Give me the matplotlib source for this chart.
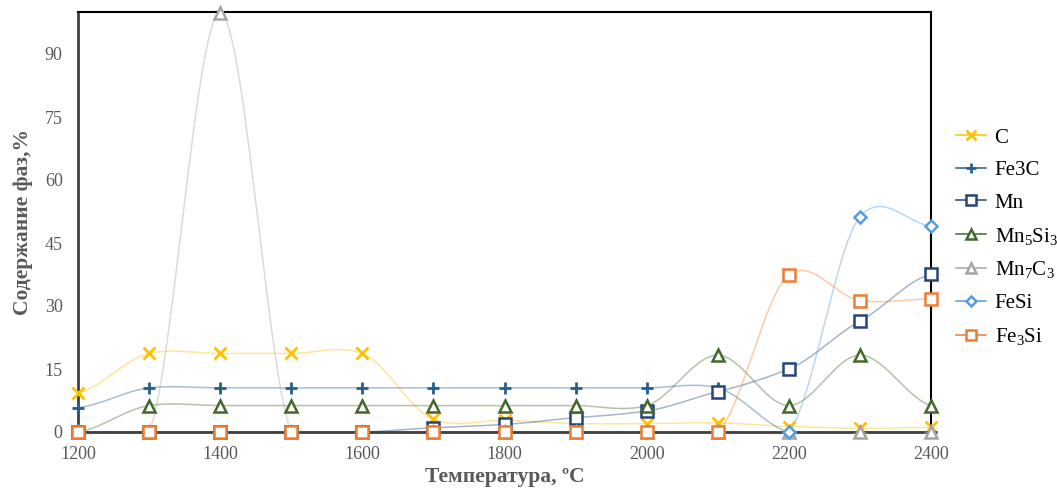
import matplotlib
matplotlib.use("Agg")
import matplotlib.pyplot as plt
import numpy as np

plt.rcParams['font.family'] = ['Liberation Serif', 'DejaVu Serif']
plt.rcParams['mathtext.fontset'] = 'custom'
plt.rcParams['mathtext.rm'] = 'Liberation Serif'
plt.rcParams['mathtext.it'] = 'Liberation Serif'

temps = [1200, 1300, 1400, 1500, 1600, 1700, 1800, 1900, 2000, 2100, 2200, 2300, 2400]

c_vals = [9.3, 18.7, 18.7, 18.7, 18.7, 3.0, 2.8, 2.0, 2.0, 2.2, 1.3, 0.9, 1.1]
fe3c_vals = [5.8, 10.5, 10.5, 10.5, 10.5, 10.5, 10.5, 10.5, 10.5, 10.5, 0, 0, 0]
mn_vals = [0, 0, 0, 0, 0, 1.0, 1.8, 3.4, 5.0, 9.6, 15.0, 26.4, 37.6]
mn5si3_vals = [0, 6.3, 6.3, 6.3, 6.3, 6.3, 6.3, 6.3, 6.3, 18.3, 6.3, 18.3, 6.3]
mn7c3_vals = [0, 0, 99.7, 0, 0, 0, 0, 0, 0, 0, 0, 0, 0]
fesi_vals = [0, 0, 0, 0, 0, 0, 0, 0, 0, 0, 0, 51.2, 49.1]
fe3si_vals = [0, 0, 0, 0, 0, 0, 0, 0, 0, 0, 37.4, 31.3, 31.7]

labels = ['C', 'Fe3C', 'Mn', r'Mn$_5$Si$_3$', r'Mn$_7$C$_3$', 'FeSi', r'Fe$_3$Si']


def smooth(x, y, n=30):
    # Catmull-Rom style smoothing, like Excel's "smoothed line"
    x = np.asarray(x, float)
    y = np.asarray(y, float)
    px = np.concatenate([[2 * x[0] - x[1]], x, [2 * x[-1] - x[-2]]])
    py = np.concatenate([[y[0]], y, [y[-1]]])
    xs, ys = [], []
    t = np.linspace(0, 1, n)
    for i in range(1, len(px) - 2):
        p0, p1, p2, p3 = py[i - 1], py[i], py[i + 1], py[i + 2]
        m1 = (p2 - p0) / 2 * 0.8
        m2 = (p3 - p1) / 2 * 0.8
        h00 = 2 * t**3 - 3 * t**2 + 1
        h10 = t**3 - 2 * t**2 + t
        h01 = -2 * t**3 + 3 * t**2
        h11 = t**3 - t**2
        ys.append(h00 * p1 + h10 * m1 + h01 * p2 + h11 * m2)
        xs.append(px[i] + t * (px[i + 1] - px[i]))
    return np.concatenate(xs), np.concatenate(ys)


series = [
    (c_vals, '#FFC000', 'x', 8, 2.0),
    (fe3c_vals, '#255E91', '+', 9, 2.0),
    (mn_vals, '#264478', 's', 8, 1.8),
    (mn5si3_vals, '#43682B', '^', 8, 1.8),
    (mn7c3_vals, '#A5A5A5', '^', 8, 1.8),
    (fesi_vals, '#5B9BD5', 'D', 6, 1.8),
    (fe3si_vals, '#ED7D31', 's', 8, 1.8),
]

fig = plt.figure(figsize=(10.57, 4.88), dpi=100)
ax = fig.add_axes([78 / 1057, 1 - 432 / 488, (931 - 78) / 1057, (432 - 12) / 488])

handles = []
for (vals, col, mk, ms, mew), lab in zip(series, labels):
    sx, sy = smooth(temps, vals)
    ax.plot(sx, sy, color=col, lw=1.1, alpha=0.4, zorder=2)
    mfc = 'white' if mk in ('s', '^', 'D') else col
    ax.plot(temps, vals, ls='none', marker=mk, ms=ms, mec=col, mfc=mfc,
            mew=mew, zorder=4, clip_on=False)
    h, = ax.plot([], [], color=col, lw=1.1, marker=mk, ms=ms * 0.85,
                 mec=col, mfc=mfc, mew=mew)
    handles.append(h)

ax.set_xlim(1200, 2400)
ax.set_ylim(0, 100)
ax.set_xticks([1200, 1400, 1600, 1800, 2000, 2200, 2400])
ax.set_yticks([0, 15, 30, 45, 60, 75, 90])
ax.tick_params(length=0, labelsize=13, colors='#595959')
ax.tick_params(axis='x', pad=10)
ax.tick_params(axis='y', pad=11)

for s in ['left', 'bottom']:
    ax.spines[s].set_color('#404040')
    ax.spines[s].set_linewidth(2)
for s in ['top', 'right']:
    ax.spines[s].set_color('black')
    ax.spines[s].set_linewidth(1.5)

ax.set_xlabel('Температура, ºС', fontsize=15.5, fontweight='bold', color='#595959', labelpad=3)
ax.set_ylabel('Содержание фаз,%', fontsize=15.5, fontweight='bold', color='#595959', labelpad=8)

leg = fig.legend(handles, labels, loc='upper left', bbox_to_anchor=(956 / 1057, 1 - 128 / 488),
                 frameon=False, fontsize=15, handlelength=1.45, labelspacing=0.62,
                 handletextpad=0.4, borderpad=0, borderaxespad=0)

fig.savefig('out.png', dpi=100)
